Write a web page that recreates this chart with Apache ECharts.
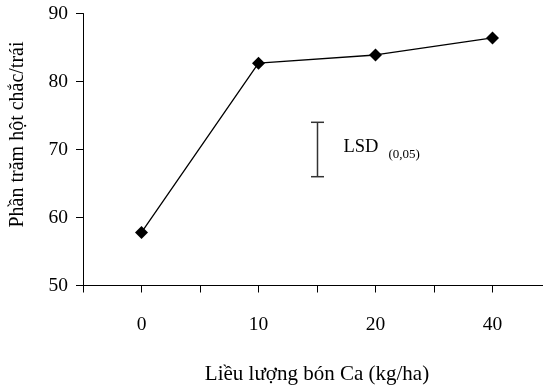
<!DOCTYPE html>
<html>
<head>
<meta charset="utf-8">
<script src="https://cdn.jsdelivr.net/npm/echarts@6/dist/echarts.min.js"></script>
<style>html,body{margin:0;padding:0;background:#fff}#c{width:543px;height:385px}</style>
</head>
<body>
<div id="c"></div>
<script>
const categories = ['0', '10', '20', '40'];
const values = [57.8, 82.7, 83.9, 86.4];
const yTicks = [50, 60, 70, 80, 90];
const lsdLow = 66;
const lsdHigh = 74;
const lsdAfterCategory = 1;
const xName = 'Liều lượng bón Ca (kg/ha)';
const yName = 'Phần trăm hột chắc/trái';

const font = 'Liberation Serif';
const chart = echarts.init(document.getElementById('c'));
chart.setOption({
  animation: false,
  backgroundColor: '#fff',
  grid: { left: 83, top: 13.5, width: 468, height: 272, outerBoundsMode: 'none', containLabel: false },
  xAxis: [{
    type: 'category',
    data: categories,
    boundaryGap: true,
    axisLine: { lineStyle: { color: '#000', width: 1 } },
    axisTick: { show: true, inside: false, length: 7, alignWithLabel: false, lineStyle: { color: '#000' } },
    axisLabel: { color: '#000', fontFamily: font, fontSize: 19.5, margin: 29 },
    name: xName,
    nameLocation: 'middle',
    nameGap: 78,
    nameTextStyle: { color: '#000', fontFamily: font, fontSize: 21 }
  }, {
    type: 'category',
    data: categories,
    boundaryGap: true,
    position: 'bottom',
    axisLine: { show: false },
    axisTick: { show: true, length: 7, alignWithLabel: true, lineStyle: { color: '#000' } },
    axisLabel: { show: false }
  }],
  yAxis: {
    type: 'value',
    min: yTicks[0],
    max: yTicks[yTicks.length - 1],
    interval: 10,
    splitLine: { show: false },
    axisLine: { show: true, lineStyle: { color: '#000', width: 1 } },
    axisTick: { show: true, length: 7, lineStyle: { color: '#000' } },
    axisLabel: { color: '#000', fontFamily: font, fontSize: 19.5, margin: 15 },
    name: yName,
    nameLocation: 'middle',
    nameGap: 55,
    nameTextStyle: { color: '#000', fontFamily: font, fontSize: 20, padding: [0, 0, 0, 30] }
  },
  series: [{
    type: 'line',
    data: values,
    symbol: 'diamond',
    symbolSize: 13,
    lineStyle: { color: '#000', width: 1.3 },
    itemStyle: { color: '#000' }
  }, {
    type: 'custom',
    data: [[lsdAfterCategory, lsdLow, lsdHigh]],
    renderItem: function (params, api) {
      const top = api.coord([api.value(0), api.value(2)]);
      const bot = api.coord([api.value(0), api.value(1)]);
      const band = api.size([1, 0])[0];
      const x = Math.round(top[0] + band / 2) + 0.5;
      const style = { stroke: '#333', lineWidth: 1.5 };
      const mid = (top[1] + bot[1]) / 2;
      return {
        type: 'group',
        children: [
          { type: 'line', shape: { x1: x, y1: top[1], x2: x, y2: bot[1] }, style: style },
          { type: 'line', shape: { x1: x - 6.5, y1: top[1], x2: x + 6.5, y2: top[1] }, style: style },
          { type: 'line', shape: { x1: x - 6.5, y1: bot[1], x2: x + 6.5, y2: bot[1] }, style: style },
          { type: 'text', x: x + 26, y: mid - 2, style: { text: 'LSD', fontFamily: font, fontSize: 18.5, fill: '#000', verticalAlign: 'middle' } },
          { type: 'text', x: x + 71, y: mid + 5, style: { text: '(0,05)', fontFamily: font, fontSize: 13, fill: '#000', verticalAlign: 'middle' } }
        ]
      };
    }
  }]
});
</script>
</body>
</html>
